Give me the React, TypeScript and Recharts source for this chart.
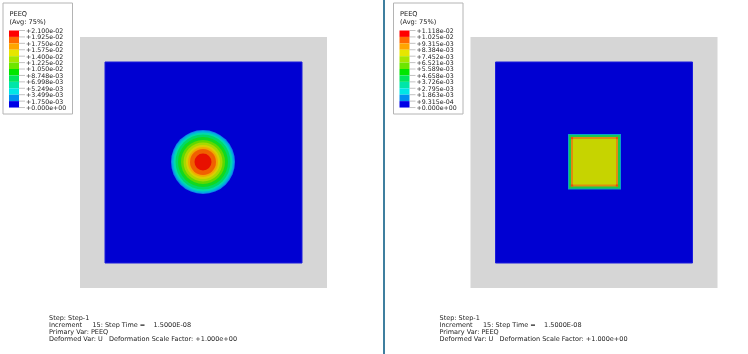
import React from "react";
import { ComposedChart, XAxis, YAxis, ReferenceArea, ReferenceDot, ReferenceLine } from "recharts";

const contourColors = ["#ff0000","#ff6a00","#ffa500","#e6e600","#a8e600","#6ee600","#00e600","#00e65c","#00e6a8","#00e6e6","#0090f0","#0000e6"];
const leftLabels = ["+2.100e-02","+1.925e-02","+1.750e-02","+1.575e-02","+1.400e-02","+1.225e-02","+1.050e-02","+8.748e-03","+6.998e-03","+5.249e-03","+3.499e-03","+1.750e-03","+0.000e+00"];
const rightLabels = ["+1.118e-02","+1.025e-02","+9.315e-03","+8.384e-03","+7.452e-03","+6.521e-03","+5.589e-03","+4.658e-03","+3.726e-03","+2.795e-03","+1.863e-03","+9.315e-04","+0.000e+00"];
const footerLines = ["Step: Step-1","Increment     15: Step Time =    1.5000E-08","Primary Var: PEEQ","Deformed Var: U   Deformation Scale Factor: +1.000e+00"];
const ringRadii = [32,31,29.5,27.5,25,22,19.5,17,15,13,8.5];
const ringColors = ["#1080e8","#00b0e0","#00d8b0","#00d868","#10d820","#60d800","#a8d800","#d8d000","#f0a800","#f06000","#e81000"];
const squareInset = [0,1,3,5];
const squareColors = ["#0a9ec8","#18c850","#e08c10","#c6d400"];
const squareCorners = [[572,138],[617,138],[572,185.5],[617,185.5]];

const FONT = "'DejaVu Sans', sans-serif";
const labelStyle: React.CSSProperties = { fontFamily: FONT, fontSize: 6.25, fill: "#222" };

function Txt({ x, y, value, style }: { x: number; y: number; value: string; style?: React.CSSProperties }) {
  return (
    <ReferenceDot
      x={x}
      y={y}
      r={0}
      shape={(p: any) => (
        <text x={p.cx} y={p.cy} xmlSpace="preserve" style={{ ...labelStyle, whiteSpace: "pre", ...style }}>{value}</text>
      )}
    />
  );
}

function Panel({ dx, labels, x0 }: { dx: number; labels: string[]; x0: number }) {
  const step = 6.42;
  const top = 30.5;
  return (
    <>
      <ReferenceArea x1={x0} x2={x0 + 69.5} y1={3} y2={114} fill="#fff" stroke="#b4b4b4" strokeWidth={1} fillOpacity={1} />
      <Txt x={x0 + 6.5} y={16} value="PEEQ" style={{ fontSize: 6.6 }} />
      <Txt x={x0 + 6.5} y={24} value="(Avg: 75%)" style={{ fontSize: 6.6 }} />
      {contourColors.map((c, i) => (
        <ReferenceArea key={c} x1={x0 + 6} x2={x0 + 16} y1={top + i * step} y2={top + (i + 1) * step} fill={c} fillOpacity={1} stroke="none" />
      ))}
      {labels.map((l, i) => (
        <React.Fragment key={l}>
          <ReferenceLine segment={[{ x: x0 + 16, y: top + i * step }, { x: x0 + 22, y: top + i * step }]} stroke="#999" strokeWidth={0.6} />
          <Txt x={x0 + 23} y={top + i * step + 2.4} value={l} />
        </React.Fragment>
      ))}
      <ReferenceArea x1={dx + 80} x2={dx + 327} y1={37} y2={288} fill="#d6d6d6" fillOpacity={1} stroke="none" />
      <ReferenceArea x1={dx + 105} x2={dx + 302} y1={62} y2={263} fill="#0000d2" fillOpacity={1} stroke="#1c1cdc" strokeWidth={1} />
      {footerLines.map((l, i) => (
        <Txt key={l} x={dx + 49} y={320.2 + i * 7} value={l} style={{ fontSize: 6.5 }} />
      ))}
    </>
  );
}

export default function App() {
  return (
    <div style={{ position: "absolute", left: 0, top: 0, width: 748, height: 354, background: "#fff", filter: "blur(0.4px)" }}>
      <ComposedChart width={748} height={354} data={[]} margin={{ top: 0, right: 0, bottom: 0, left: 0 }}>
        <XAxis type="number" dataKey="x" domain={[0, 748]} hide allowDataOverflow />
        <YAxis type="number" domain={[0, 354]} reversed hide allowDataOverflow />
        <Panel dx={0} labels={leftLabels} x0={3} />
        <Panel dx={390.5} labels={rightLabels} x0={393.5} />
        {ringRadii.map((r, i) => (
          <ReferenceDot key={r} x={203} y={162} r={r} fill={ringColors[i]} stroke="none" />
        ))}
        {squareInset.map((d, i) => (
          <ReferenceArea key={d} x1={568 + d} x2={621 - d} y1={134 + d} y2={189.5 - d} fill={squareColors[i]} fillOpacity={1} stroke="none" />
        ))}
        {squareCorners.map(([x, y]) => (
          <ReferenceDot key={`${x}-${y}`} x={x} y={y} r={1.2} fill="#e85010" stroke="none" />
        ))}
        <ReferenceArea x1={383} x2={385} y1={0} y2={354} fill="#3f7f9f" fillOpacity={1} stroke="none" />
      </ComposedChart>
    </div>
  );
}
